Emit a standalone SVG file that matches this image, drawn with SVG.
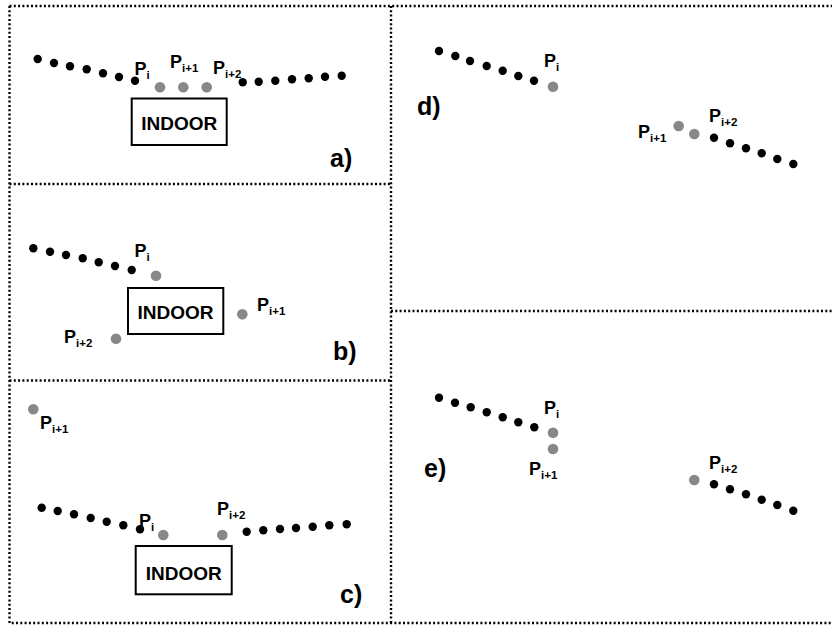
<svg xmlns="http://www.w3.org/2000/svg" width="832" height="625" viewBox="0 0 832 625">
  <style>
    .frame { fill: none; stroke: #000; stroke-width: 2.4; stroke-dasharray: 2 2.3; }
    .pt { fill: #000; }
    .gp { fill: #888; }
    .box { fill: #fff; stroke: #000; stroke-width: 2; }
    .lbl { font-family: "Liberation Sans", Arial, sans-serif; font-weight: bold; font-size: 18px; fill: #000; }
    .sub { font-size: 11.5px; }
    .indoor { font-family: "Liberation Sans", Arial, sans-serif; font-weight: bold; font-size: 19px; fill: #000; }
    .tag { font-family: "Liberation Sans", Arial, sans-serif; font-weight: bold; font-size: 25px; fill: #000; }
  </style>
  <rect width="832" height="625" fill="#fff"/>

  <!-- panel frames -->
  <g id="frames">
    <path class="frame" d="M9.5 6 H832 M9.5 6 V623 H832 M391 6 V623 M9.5 184 H391 M9.5 380.5 H391 M391 311 H832"/>
  </g>

  <!-- a) trajectory passes the building with three gray samples -->
  <g id="panel-a">
    <g class="pt">
      <circle cx="37.7" cy="59" r="4.2"/><circle cx="54" cy="63" r="4.2"/><circle cx="70" cy="66.3" r="4.2"/>
      <circle cx="86.7" cy="69.3" r="4.2"/><circle cx="103" cy="73.3" r="4.2"/><circle cx="119" cy="77" r="4.2"/>
      <circle cx="135" cy="80.7" r="4.2"/>
      <circle cx="242.7" cy="82.3" r="4.2"/><circle cx="258.7" cy="81.7" r="4.2"/><circle cx="275.3" cy="80.7" r="4.2"/>
      <circle cx="292" cy="79.3" r="4.2"/><circle cx="308.7" cy="78.3" r="4.2"/><circle cx="325" cy="76.7" r="4.2"/>
      <circle cx="341.7" cy="75.7" r="4.2"/>
    </g>
    <g class="gp">
      <circle cx="160" cy="87.3" r="5.3"/><circle cx="183.3" cy="87.3" r="5.3"/><circle cx="206.7" cy="87.3" r="5.3"/>
    </g>
    <text class="lbl" x="134.5" y="75">P<tspan class="sub" dy="4">i</tspan></text>
    <text class="lbl" x="170" y="68">P<tspan class="sub" dy="4">i+1</tspan></text>
    <text class="lbl" x="213" y="74">P<tspan class="sub" dy="4">i+2</tspan></text>
    <g id="indoor-a">
      <rect class="box" x="131.7" y="98.5" width="95" height="46.5"/>
      <text class="indoor" x="179.2" y="129.5" text-anchor="middle">INDOOR</text>
    </g>
    <text class="tag" x="330" y="167">a)</text>
  </g>

  <!-- b) samples scattered around the building -->
  <g id="panel-b">
    <g class="pt">
      <circle cx="33.3" cy="248.3" r="4.2"/><circle cx="50" cy="251.7" r="4.2"/><circle cx="66" cy="255" r="4.2"/>
      <circle cx="82.7" cy="258.3" r="4.2"/><circle cx="98.7" cy="262.3" r="4.2"/><circle cx="115" cy="266" r="4.2"/>
      <circle cx="131.7" cy="270" r="4.2"/>
    </g>
    <g class="gp">
      <circle cx="156" cy="275.7" r="5.3"/><circle cx="242.3" cy="314.3" r="5.3"/><circle cx="116" cy="338.7" r="5.3"/>
    </g>
    <text class="lbl" x="134.5" y="257">P<tspan class="sub" dy="4">i</tspan></text>
    <text class="lbl" x="257" y="311">P<tspan class="sub" dy="4">i+1</tspan></text>
    <text class="lbl" x="64" y="342.5">P<tspan class="sub" dy="4">i+2</tspan></text>
    <g id="indoor-b">
      <rect class="box" x="128" y="288" width="95.3" height="46"/>
      <text class="indoor" x="175.6" y="318.5" text-anchor="middle">INDOOR</text>
    </g>
    <text class="tag" x="333" y="360">b)</text>
  </g>

  <!-- c) one outlying sample far from the trajectory -->
  <g id="panel-c">
    <g class="pt">
      <circle cx="41.7" cy="507.7" r="4.2"/><circle cx="57.7" cy="511" r="4.2"/><circle cx="74" cy="514.3" r="4.2"/>
      <circle cx="90.7" cy="518" r="4.2"/><circle cx="106.7" cy="521.7" r="4.2"/><circle cx="123.3" cy="525.3" r="4.2"/>
      <circle cx="140" cy="529.3" r="4.2"/>
      <circle cx="246.7" cy="531.7" r="4.2"/><circle cx="263.3" cy="530.3" r="4.2"/><circle cx="280" cy="529" r="4.2"/>
      <circle cx="296" cy="528" r="4.2"/><circle cx="312.7" cy="526.7" r="4.2"/><circle cx="329.3" cy="525.3" r="4.2"/>
      <circle cx="346.7" cy="524.3" r="4.2"/>
    </g>
    <g class="gp">
      <circle cx="33.3" cy="409.3" r="5.3"/><circle cx="163.3" cy="535" r="5.3"/><circle cx="222.3" cy="535" r="5.3"/>
    </g>
    <text class="lbl" x="40" y="428.5">P<tspan class="sub" dy="4">i+1</tspan></text>
    <text class="lbl" x="139" y="527">P<tspan class="sub" dy="4">i</tspan></text>
    <text class="lbl" x="217" y="515">P<tspan class="sub" dy="4">i+2</tspan></text>
    <g id="indoor-c">
      <rect class="box" x="135.7" y="546" width="96" height="48.3"/>
      <text class="indoor" x="183.7" y="579.5" text-anchor="middle">INDOOR</text>
    </g>
    <text class="tag" x="340" y="603">c)</text>
  </g>

  <!-- d) gap between two trajectory segments -->
  <g id="panel-d">
    <g class="pt">
      <circle cx="439" cy="51" r="4.2"/><circle cx="455.3" cy="56" r="4.2"/><circle cx="470" cy="61" r="4.2"/>
      <circle cx="486.7" cy="66" r="4.2"/><circle cx="502.7" cy="70.7" r="4.2"/><circle cx="518.3" cy="76" r="4.2"/>
      <circle cx="534" cy="80.7" r="4.2"/>
      <circle cx="714" cy="137.7" r="4.2"/><circle cx="730" cy="143.3" r="4.2"/><circle cx="746" cy="148.3" r="4.2"/>
      <circle cx="761.7" cy="153.3" r="4.2"/><circle cx="777.3" cy="159" r="4.2"/><circle cx="793.3" cy="164" r="4.2"/>
    </g>
    <g class="gp">
      <circle cx="553" cy="86.7" r="5.3"/><circle cx="678.7" cy="126" r="5.3"/><circle cx="694.3" cy="134" r="5.3"/>
    </g>
    <text class="lbl" x="544" y="67">P<tspan class="sub" dy="4">i</tspan></text>
    <text class="lbl" x="638" y="137.5">P<tspan class="sub" dy="4">i+1</tspan></text>
    <text class="lbl" x="709" y="122">P<tspan class="sub" dy="4">i+2</tspan></text>
    <text class="tag" x="417" y="115">d)</text>
  </g>

  <!-- e) gap with two stationary samples -->
  <g id="panel-e">
    <g class="pt">
      <circle cx="439" cy="397.7" r="4.2"/><circle cx="455" cy="402.7" r="4.2"/><circle cx="470.7" cy="407.3" r="4.2"/>
      <circle cx="486.7" cy="412.3" r="4.2"/><circle cx="502.7" cy="417.3" r="4.2"/><circle cx="518.3" cy="422.3" r="4.2"/>
      <circle cx="534.3" cy="427.3" r="4.2"/>
      <circle cx="714" cy="484.3" r="4.2"/><circle cx="730" cy="489.3" r="4.2"/><circle cx="746" cy="494.3" r="4.2"/>
      <circle cx="761.7" cy="499.7" r="4.2"/><circle cx="777.3" cy="505" r="4.2"/><circle cx="793.3" cy="510.7" r="4.2"/>
    </g>
    <g class="gp">
      <circle cx="553" cy="432.7" r="5.3"/><circle cx="553" cy="449" r="5.3"/><circle cx="694.3" cy="480" r="5.3"/>
    </g>
    <text class="lbl" x="544" y="413.5">P<tspan class="sub" dy="4">i</tspan></text>
    <text class="lbl" x="529" y="475">P<tspan class="sub" dy="4">i+1</tspan></text>
    <text class="lbl" x="709" y="468.5">P<tspan class="sub" dy="4">i+2</tspan></text>
    <text class="tag" x="424" y="477">e)</text>
  </g>
</svg>
